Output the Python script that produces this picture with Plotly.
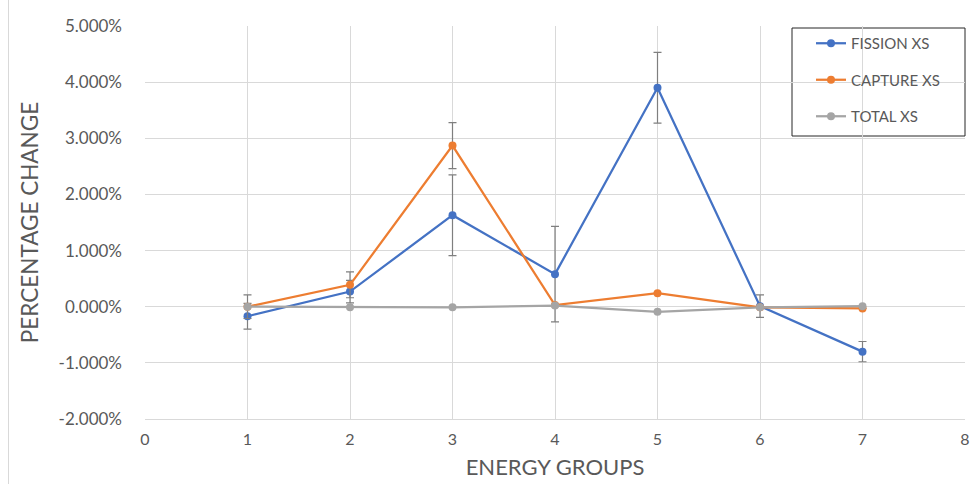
import plotly.graph_objects as go

groups = [1, 2, 3, 4, 5, 6, 7]
fission = [-0.17, 0.27, 1.63, 0.58, 3.90, 0.01, -0.80]
fission_err = [0.23, 0.20, 0.72, 0.85, 0.63, 0.20, 0.18]
capture = [0.00, 0.39, 2.87, 0.03, 0.24, -0.01, -0.03]
capture_err = [0.21, 0.23, 0.41, 0.0, 0.0, 0.0, 0.0]
total = [0.00, -0.01, -0.01, 0.02, -0.09, -0.01, 0.01]

y_ticks = [-2, -1, 0, 1, 2, 3, 4, 5]
y_tick_labels = ["-2.000%", "-1.000%", "0.000%", "1.000%", "2.000%", "3.000%", "4.000%", "5.000%"]
x_ticks = [0, 1, 2, 3, 4, 5, 6, 7, 8]
x_tick_labels = ["0", "1", "2", "3", "4", "5", "6", "7", "8"]

FONT = "Lato"
TXT = "#595959"

fig = go.Figure()

def add(name, y, color, err=None, group="a"):
    kw = {}
    if err is not None:
        kw["error_y"] = dict(type="data", array=err, visible=True, color="#7f7f7f",
                             thickness=1.2, width=4)
    fig.add_trace(go.Scatter(
        x=groups, y=y, name=name, mode="lines+markers",
        line=dict(color=color, width=2.25),
        marker=dict(color=color, size=8),
        legendgroup=group,
        **kw))

add("FISSION XS", fission, "#4472C4", fission_err, "g1")
add("CAPTURE XS", capture, "#ED7D31", capture_err, "g2")
add("TOTAL XS", total, "#A5A5A5", None, "g3")

W, H = 970, 484
L, R, T, B = 145, W - 965, 26, H - 419
pw = W - L - R
ph = H - T - B

def px_x(sx):
    return (sx - L) / pw

def px_y(sy):
    return (H - B - sy) / ph

fig.update_layout(
    width=W, height=H,
    margin=dict(l=L, r=R, t=T, b=B, autoexpand=False),
    paper_bgcolor="white", plot_bgcolor="white",
    font=dict(family=FONT, color=TXT, size=16),
    showlegend=True,
    legend=dict(x=px_x(811), y=px_y(27), xanchor="left", yanchor="top",
                bgcolor="rgba(0,0,0,0)", borderwidth=0,
                font=dict(size=15, color=TXT),
                tracegroupgap=14, itemwidth=30),
    shapes=[
        dict(type="rect", xref="paper", yref="paper",
             x0=px_x(792), x1=px_x(965), y0=px_y(136), y1=px_y(28),
             line=dict(color="#262626", width=1), fillcolor="white", layer="below"),
        dict(type="line", xref="paper", yref="paper",
             x0=px_x(8.5), x1=px_x(8.5), y0=px_y(484), y1=px_y(0),
             line=dict(color="#d9d9d9", width=1)),
    ],
)

fig.update_xaxes(
    range=[0, 8], tickvals=x_ticks, ticktext=x_tick_labels,
    showgrid=True, gridcolor="#d9d9d9", gridwidth=1,
    zeroline=False, showline=True, linecolor="#d9d9d9", linewidth=1,
    ticks="", ticklabelstandoff=6,
    tickfont=dict(size=16, color=TXT),
    title=dict(text="ENERGY GROUPS", font=dict(size=22, color=TXT), standoff=12),
    automargin=False,
)
fig.update_yaxes(
    range=[-2, 5], tickvals=y_ticks, ticktext=y_tick_labels,
    showgrid=True, gridcolor="#d9d9d9", gridwidth=1,
    zeroline=False, showline=False,
    ticks="", ticklabelstandoff=22,
    tickfont=dict(size=17, color=TXT),
    title=dict(text="PERCENTAGE CHANGE", font=dict(size=22.5, color=TXT), standoff=13),
    automargin=False,
)

fig.write_html(
    "out.html",
    config={"displayModeBar": False},
    post_script="document.body.style.margin='0';document.body.style.overflow='hidden';",
)
